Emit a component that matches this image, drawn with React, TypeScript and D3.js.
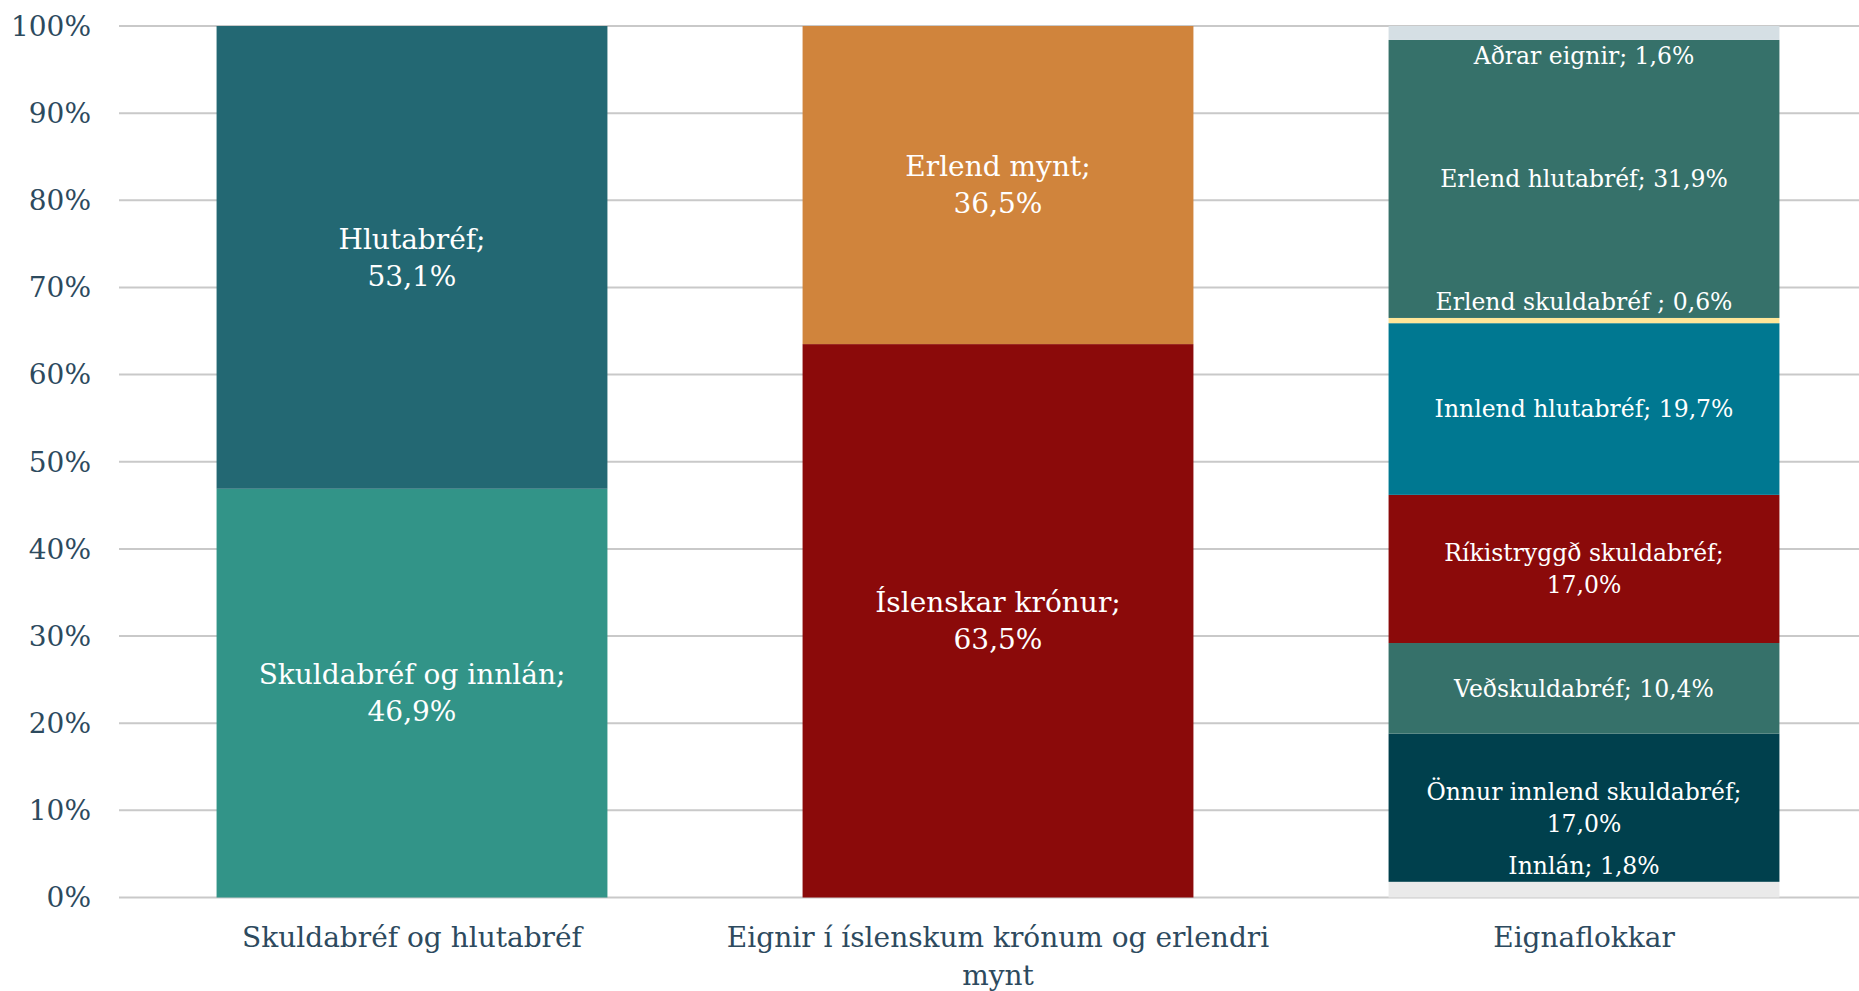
import React, { useEffect } from "react";
import * as d3 from "d3";

const categories = [
  ["Skuldabréf og hlutabréf"],
  ["Eignir í íslenskum krónum og erlendri", "mynt"],
  ["Eignaflokkar"],
];

const bar1Names = ["Skuldabréf og innlán", "Hlutabréf"];
const bar1Values = [46.9, 53.1];
const bar1Colors = ["#329488", "#236873"];

const bar2Names = ["Íslenskar krónur", "Erlend mynt"];
const bar2Values = [63.5, 36.5];
const bar2Colors = ["#8B0A0A", "#D0843C"];

const bar3Names = [
  "Innlán",
  "Önnur innlend skuldabréf",
  "Veðskuldabréf",
  "Ríkistryggð skuldabréf",
  "Innlend hlutabréf",
  "Erlend skuldabréf ",
  "Erlend hlutabréf",
  "Aðrar eignir",
];
const bar3Values = [1.8, 17.0, 10.4, 17.0, 19.7, 0.6, 31.9, 1.6];
const bar3Colors = ["#EAEAEA", "#00404D", "#36716A", "#8B0A0A", "#007891", "#FFE699", "#36716A", "#D5DFE4"];
const bar3Wrap = [false, true, false, true, false, false, false, false];

const yTicks = [0, 10, 20, 30, 40, 50, 60, 70, 80, 90, 100];

const W = 1859;
const H = 991;
const FONT = "Georgia, 'DejaVu Serif', serif";
const AXIS_COLOR = "#2D4A5E";

const locale = d3.formatLocale({ decimal: ",", thousands: ".", grouping: [3], currency: ["", " kr."] });
const fmt = locale.format(".1f");

type Seg = { name: string; value: number; color: string; y0: number; y1: number; wrap: boolean; idx: number; n: number };

function stackBar(names: string[], values: number[], colors: string[], wrap: boolean[]): Seg[] {
  let acc = 0;
  return values.map((v, i) => {
    const s = { name: names[i], value: v, color: colors[i], y0: acc, y1: acc + v, wrap: wrap[i], idx: i, n: values.length };
    acc += v;
    return s;
  });
}

const bars = [
  { segs: stackBar(bar1Names, bar1Values, bar1Colors, [true, true]), fontSize: 28, lineH: 37 },
  { segs: stackBar(bar2Names, bar2Values, bar2Colors, [true, true]), fontSize: 28, lineH: 37 },
  { segs: stackBar(bar3Names, bar3Values, bar3Colors, bar3Wrap), fontSize: 23.5, lineH: 32 },
];

export default function App() {
  useEffect(() => {
    document.body.style.margin = "0";
    document.body.style.overflow = "hidden";
  }, []);

  const x = d3.scaleBand<number>().domain([0, 1, 2]).range([119, 1877]).paddingInner(0.333).paddingOuter(0.1665);
  const y = d3.scaleLinear().domain([0, 100]).range([897.5, 26]);

  return (
    <svg width={W} height={H} style={{ display: "block", background: "#fff" }} fontFamily={FONT}>
      {yTicks.map((t) => (
        <g key={t}>
          <line x1={119} x2={W} y1={y(t)} y2={y(t)} stroke="#C9C9C9" strokeWidth={2} />
          <text x={91} y={y(t)} dy="0.35em" textAnchor="end" fontSize={28} fill={AXIS_COLOR}>
            {t}%
          </text>
        </g>
      ))}
      {bars.map((b, bi) => {
        const bx = x(bi)!;
        const bw = x.bandwidth();
        const cx = bx + bw / 2;
        return (
          <g key={bi}>
            {b.segs.map((s) => (
              <rect key={s.idx} x={bx} width={bw} y={y(s.y1)} height={y(s.y0) - y(s.y1)} fill={s.color} />
            ))}
            {b.segs.map((s) => {
              const lines = s.wrap ? [s.name + ";", fmt(s.value) + "%"] : [s.name + "; " + fmt(s.value) + "%"];
              const blockH = lines.length * b.lineH;
              const segH = y(s.y0) - y(s.y1);
              let cy = (y(s.y0) + y(s.y1)) / 2;
              if (segH < blockH) {
                // too thin for its label: place beside it inside the neighbouring segment
                cy = s.idx === s.n - 1 ? y(s.y0) + blockH / 2 : y(s.y1) - blockH / 2;
              }
              const firstY = cy - ((lines.length - 1) * b.lineH) / 2;
              return (
                <text key={"l" + s.idx} x={cx} textAnchor="middle" fontSize={b.fontSize} fill="#FFFFFF">
                  {lines.map((ln, li) => (
                    <tspan key={li} x={cx} y={firstY + li * b.lineH} dy="0.35em">
                      {ln}
                    </tspan>
                  ))}
                </text>
              );
            })}
            <text textAnchor="middle" fontSize={28} fill={AXIS_COLOR}>
              {categories[bi].map((ln, li) => (
                <tspan key={li} x={cx} y={937 + li * 38} dy="0.35em">
                  {ln}
                </tspan>
              ))}
            </text>
          </g>
        );
      })}
    </svg>
  );
}
